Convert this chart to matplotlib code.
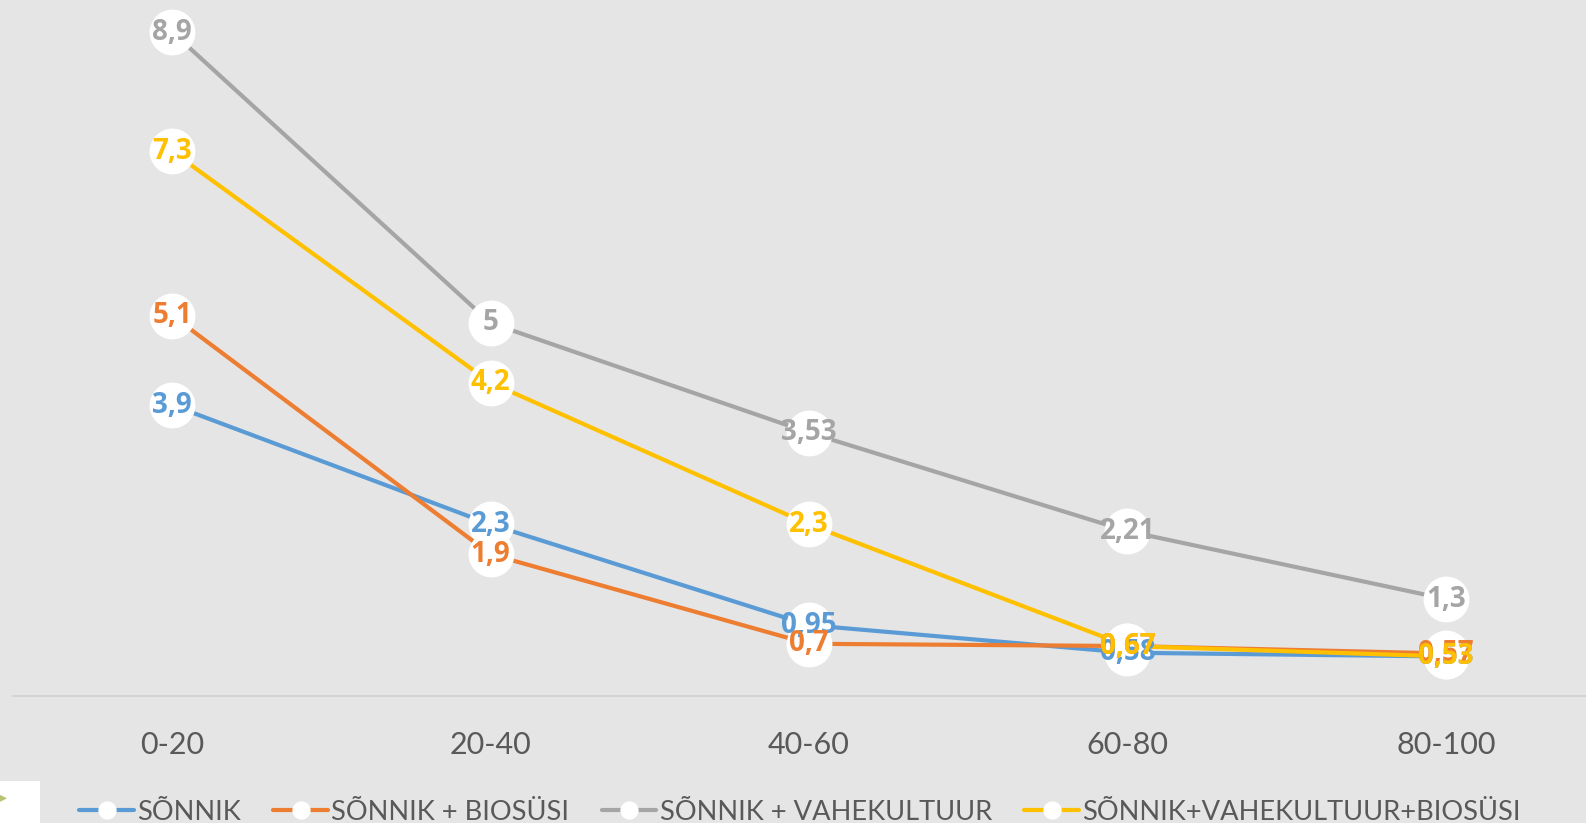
import matplotlib
matplotlib.use('Agg')
import matplotlib.pyplot as plt
from matplotlib.patches import Rectangle

# depth intervals (cm) and measured values per treatment
depths = ['0-20', '20-40', '40-60', '60-80', '80-100']
sonnik = [3.9, 2.3, 0.95, 0.58, 0.53]
sonnik_biosusi = [5.1, 1.9, 0.7, 0.67, 0.57]
sonnik_vahekultuur = [8.9, 5, 3.53, 2.21, 1.3]
sonnik_vk_biosusi = [7.3, 4.2, 2.3, 0.67, 0.53]

names = ['SÕNNIK', 'SÕNNIK + BIOSÜSI', 'SÕNNIK + VAHEKULTUUR', 'SÕNNIK+VAHEKULTUUR+BIOSÜSI']
colors = ['#5B9BD5', '#ED7D31', '#A5A5A5', '#FFC000']
series = [sonnik, sonnik_biosusi, sonnik_vahekultuur, sonnik_vk_biosusi]

bg = '#E5E5E5'
text_font = ['Lato', 'DejaVu Sans']
label_font = ['Open Sans', 'DejaVu Sans']

fig = plt.figure(figsize=(15.86, 8.23), dpi=100, facecolor=bg)
ax = fig.add_axes([13 / 1586, (823 - 696) / 823, 1592 / 1586, 746 / 823])
ax.set_facecolor(bg)

x = list(range(len(depths)))
for vals, name, c in zip(series, names, colors):
    ax.plot(x, vals, color=c, lw=3, marker='o', markersize=32,
            markerfacecolor='white', markeredgecolor='white', label=name,
            solid_capstyle='round', clip_on=False)

# value labels on top of all markers
for vals, c in zip(series, colors):
    for xi, v in zip(x, vals):
        ax.text(xi, v, f'{v:g}'.replace('.', ','), color=c, fontsize=20,
                fontweight='bold', family=label_font, ha='center', va='center',
                zorder=5)

ax.set_xlim(-0.5, 4.5)
ax.set_ylim(0, 10)
ax.set_xticks(x)
ax.set_xticklabels(depths, family=text_font, fontsize=22, color='#595959')
ax.tick_params(axis='x', length=0, pad=25)
ax.set_yticks([])
for side in ['top', 'right', 'left']:
    ax.spines[side].set_visible(False)
ax.spines['bottom'].set_color('#D0D0D0')
ax.spines['bottom'].set_linewidth(1.2)

leg = fig.legend(loc='center', bbox_to_anchor=(0.5044, 1 - 812 / 823), ncol=4,
                 frameon=False, markerscale=0.38, handlelength=2.0,
                 handletextpad=0.12, columnspacing=1.2,
                 prop={'family': text_font, 'size': 19.6})
for t in leg.get_texts():
    t.set_color('#595959')

# white corner patch
fig.patches.append(Rectangle((0, 0), 40 / 1586, 42 / 823, transform=fig.transFigure,
                             facecolor='white', edgecolor='none'))
fig.text(0.0, 1 - 797 / 823, '▸', color='#9AA832', fontsize=10, ha='left', va='center', alpha=0.7)

fig.savefig('out.png', dpi=100, facecolor=bg)
